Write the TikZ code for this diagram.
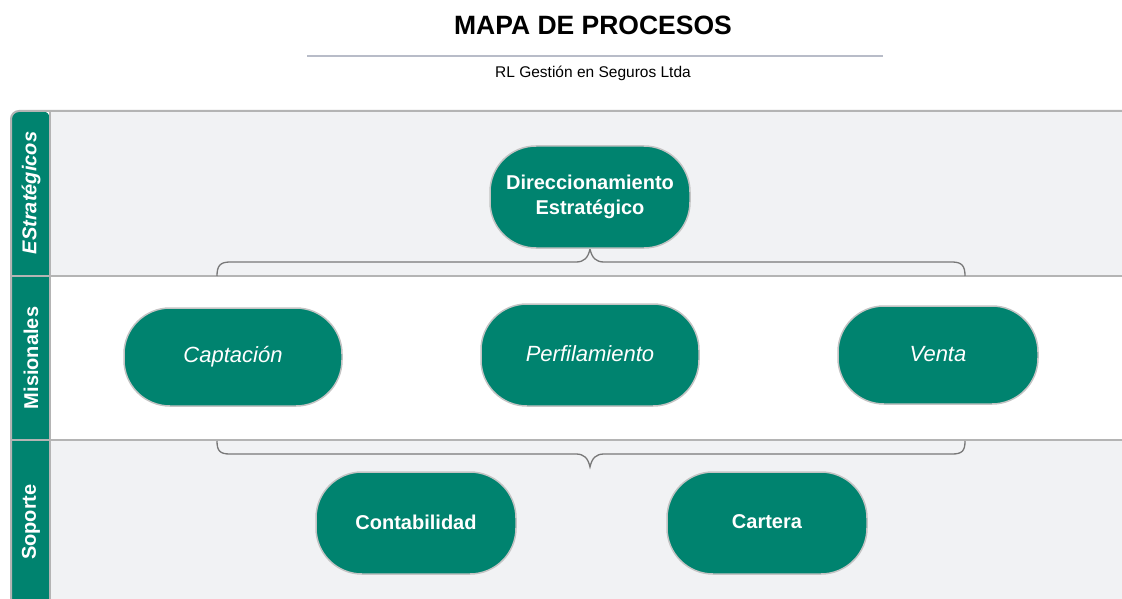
\documentclass[tikz,border=0pt]{standalone}
\usepackage{fontspec}
\setmainfont{Liberation Sans}
\definecolor{teal}{HTML}{00836F}
\definecolor{lanefill}{HTML}{F1F2F4}
\definecolor{laneline}{HTML}{B4B4B4}
\definecolor{nodeline}{HTML}{C4C4C4}
\definecolor{bracecol}{HTML}{787878}
\definecolor{ruleline}{HTML}{B8BCC8}
\begin{document}
\begin{tikzpicture}[x=1pt,y=-1pt,
  proc/.style={rectangle,rounded corners=46pt,fill=teal,draw=nodeline,line width=1.5pt,
    minimum width=200pt,minimum height=102pt,text=white,align=center,inner sep=0pt},
  bproc/.style={proc,font=\bfseries\fontsize{20}{25}\selectfont},
  iproc/.style={proc,font=\itshape\fontsize{22}{26}\selectfont},
  lanelabel/.style={rotate=90,text=white,font=\bfseries\fontsize{20}{24}\selectfont,inner sep=0pt},
  brace/.style={draw=bracecol,line width=1.3pt}]
\useasboundingbox (0,0) rectangle (1122,599);
\fill[white] (0,0) rectangle (1122,599);
% title
\node (title) at (593,25) {\bfseries\fontsize{26.5}{30}\selectfont MAPA DE PROCESOS};
\draw[ruleline,line width=1.5pt] (307,56) -- (883,56);
\node (sub) at (593,73) {\fontsize{15.5}{18}\selectfont RL Gestión en Seguros Ltda};
% lanes
\fill[lanefill] (50,111) rectangle (1122,276);
\fill[white] (50,276) rectangle (1122,440);
\fill[lanefill] (50,440) rectangle (1122,600);
\fill[teal,rounded corners=8pt] (11,600) -- (11,111) -- (50,111) [sharp corners] -- (50,600) -- cycle;
\draw[laneline,line width=2pt,rounded corners=8pt] (11,600) -- (11,111) -- (1122,111);
\draw[laneline,line width=2pt] (11,276) -- (1122,276);
\draw[laneline,line width=2pt] (11,440) -- (1122,440);
\draw[laneline,line width=2pt] (50,111) -- (50,600);
\node[lanelabel,font=\bfseries\itshape\fontsize{20}{24}\selectfont] (l1) at (31,193) {EStratégicos};
\node[lanelabel] (l2) at (31,358) {Misionales};
\node[lanelabel] (l3) at (31,522) {Soporte};
% braces
\draw[brace] (217,276) .. controls (217,266) and (220,262) .. (230,262) -- (576,262) .. controls (584,262) and (588,258) .. (590,249)
  .. controls (592,258) and (596,262) .. (604,262) -- (952,262) .. controls (962,262) and (965,266) .. (965,276);
\draw[brace] (217,441) .. controls (217,451) and (220,454) .. (230,454) -- (576,454) .. controls (584,454) and (588,458) .. (590,467)
  .. controls (592,458) and (596,454) .. (604,454) -- (952,454) .. controls (962,454) and (965,451) .. (965,441);
% processes
\node[bproc] (dir) at (590,197) {Direccionamiento\\Estratégico};
\node[iproc,minimum width=218pt,minimum height=98pt] (cap) at (233,357) {\raisebox{2pt}{Captación}};
\node[iproc,minimum width=218pt] (per) at (590,355) {\raisebox{2pt}{Perfilamiento}};
\node[iproc,minimum height=98pt] (ven) at (938,355) {\raisebox{2pt}{Venta}};
\node[bproc] (con) at (416,523) {\raisebox{2pt}{Contabilidad}};
\node[bproc] (car) at (767,523) {\raisebox{2pt}{Cartera}};
\end{tikzpicture}
\end{document}
